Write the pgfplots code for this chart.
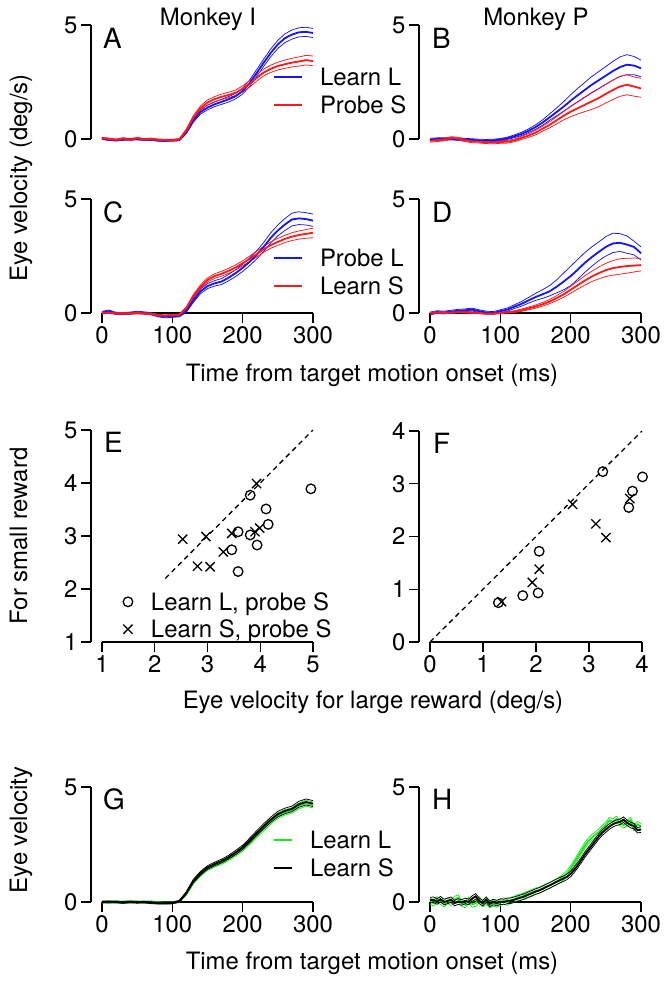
\documentclass[border=0pt]{standalone}
\usepackage{pgfplots}
\pgfplotsset{compat=1.18}
\usepackage{pgfplotstable}
\usepackage{fontspec}
\setmainfont{TeX Gyre Heros}
\newcommand\fs{\fontsize{24}{28}\selectfont}
\definecolor{myblue}{RGB}{20,20,255}
\definecolor{myred}{RGB}{255,25,25}
\definecolor{mygreen}{RGB}{30,230,30}

\pgfplotstableread{
t Bm Bu Bl Rm Ru Rl
0 0.02 0.06 -0.02 0.03 0.07 -0.01
10 -0.03 0.01 -0.07 0.00 0.04 -0.04
20 -0.05 -0.01 -0.09 -0.04 0.00 -0.08
30 -0.02 0.02 -0.06 0.02 0.06 -0.02
40 -0.01 0.03 -0.05 -0.03 0.01 -0.07
50 0.00 0.04 -0.04 0.03 0.07 -0.01
60 -0.03 0.01 -0.07 -0.02 0.02 -0.06
70 -0.02 0.02 -0.06 0.00 0.04 -0.04
80 -0.06 -0.02 -0.10 -0.04 0.00 -0.08
90 -0.07 -0.03 -0.11 -0.05 -0.01 -0.09
100 -0.05 -0.01 -0.09 -0.06 -0.02 -0.10
110 -0.04 0.00 -0.08 -0.02 0.02 -0.06
120 0.30 0.36 0.24 0.38 0.44 0.32
130 0.82 0.90 0.74 0.95 1.03 0.87
140 1.18 1.27 1.09 1.35 1.45 1.25
150 1.38 1.48 1.28 1.60 1.71 1.49
160 1.52 1.62 1.42 1.75 1.86 1.64
170 1.63 1.74 1.52 1.85 1.97 1.73
180 1.74 1.86 1.62 1.93 2.05 1.81
190 1.88 2.00 1.76 2.03 2.15 1.91
200 2.10 2.23 1.97 2.20 2.33 2.07
210 2.45 2.59 2.31 2.42 2.56 2.28
220 2.90 3.05 2.75 2.68 2.82 2.54
230 3.35 3.51 3.19 2.92 3.07 2.77
240 3.78 3.95 3.61 3.08 3.24 2.92
250 4.15 4.33 3.97 3.20 3.37 3.03
260 4.42 4.61 4.23 3.28 3.46 3.10
270 4.58 4.78 4.38 3.35 3.54 3.16
280 4.68 4.88 4.48 3.40 3.60 3.20
290 4.70 4.90 4.50 3.46 3.67 3.25
300 4.65 4.85 4.45 3.42 3.64 3.21
}\dataA

\pgfplotstableread{
t Bm Bu Bl Rm Ru Rl
0 -0.02 0.03 -0.07 -0.08 -0.02 -0.14
10 0.00 0.05 -0.05 -0.05 0.01 -0.11
20 0.00 0.05 -0.05 -0.02 0.04 -0.08
30 0.01 0.06 -0.04 0.04 0.10 -0.02
40 -0.01 0.04 -0.06 0.02 0.08 -0.04
50 -0.02 0.03 -0.07 -0.06 0.00 -0.12
60 -0.04 0.01 -0.09 -0.10 -0.04 -0.16
70 -0.06 -0.01 -0.11 -0.12 -0.06 -0.18
80 -0.07 -0.02 -0.12 -0.14 -0.08 -0.20
90 -0.06 -0.01 -0.11 -0.15 -0.09 -0.21
100 -0.03 0.02 -0.08 -0.13 -0.07 -0.19
110 0.03 0.08 -0.02 -0.12 -0.06 -0.18
120 0.12 0.18 0.06 -0.06 0.00 -0.12
130 0.22 0.29 0.15 0.05 0.12 -0.02
140 0.36 0.44 0.28 0.15 0.23 0.07
150 0.52 0.62 0.42 0.28 0.38 0.18
160 0.72 0.84 0.60 0.45 0.56 0.34
170 0.95 1.10 0.82 0.62 0.75 0.49
180 1.18 1.36 1.02 0.82 0.98 0.66
190 1.42 1.64 1.22 1.02 1.20 0.84
200 1.68 1.94 1.44 1.20 1.42 0.98
210 1.92 2.22 1.64 1.35 1.62 1.10
220 2.15 2.48 1.84 1.50 1.82 1.20
230 2.38 2.74 2.04 1.65 2.02 1.30
240 2.58 2.96 2.22 1.80 2.20 1.42
250 2.78 3.18 2.40 1.98 2.40 1.58
260 2.98 3.40 2.58 2.15 2.58 1.73
270 3.15 3.60 2.74 2.30 2.75 1.87
280 3.26 3.70 2.82 2.38 2.82 1.94
290 3.22 3.62 2.82 2.30 2.72 1.88
300 3.10 3.46 2.73 2.22 2.66 1.83
}\dataB

\pgfplotstableread{
t Bm Bu Bl Rm Ru Rl
0 0.02 0.07 -0.03 0.00 0.04 -0.04
10 0.08 0.13 0.03 0.02 0.06 -0.02
20 -0.02 0.03 -0.07 -0.01 0.03 -0.05
30 -0.03 0.02 -0.08 -0.02 0.02 -0.06
40 -0.01 0.04 -0.06 -0.01 0.03 -0.05
50 0.03 0.08 -0.02 0.00 0.04 -0.04
60 0.00 0.05 -0.05 -0.01 0.03 -0.05
70 -0.03 0.02 -0.08 -0.04 0.00 -0.08
80 -0.12 -0.07 -0.17 -0.10 -0.06 -0.14
90 -0.16 -0.11 -0.21 -0.12 -0.08 -0.16
100 -0.14 -0.09 -0.19 -0.10 -0.06 -0.14
110 -0.12 -0.07 -0.17 -0.08 -0.04 -0.12
120 0.10 0.16 0.04 0.22 0.27 0.17
130 0.55 0.63 0.47 0.75 0.82 0.68
140 0.95 1.05 0.85 1.15 1.23 1.07
150 1.18 1.29 1.07 1.45 1.54 1.36
160 1.30 1.42 1.18 1.62 1.72 1.52
170 1.38 1.51 1.25 1.72 1.83 1.61
180 1.55 1.69 1.41 1.85 1.96 1.74
190 1.75 1.90 1.60 2.00 2.11 1.89
200 1.98 2.14 1.82 2.18 2.29 2.07
210 2.25 2.42 2.08 2.38 2.50 2.26
220 2.55 2.73 2.37 2.58 2.71 2.45
230 2.90 3.10 2.70 2.80 2.93 2.67
240 3.30 3.52 3.08 2.98 3.12 2.84
250 3.62 3.86 3.38 3.12 3.27 2.97
260 3.88 4.14 3.62 3.25 3.41 3.09
270 4.10 4.38 3.82 3.35 3.52 3.18
280 4.15 4.44 3.88 3.42 3.60 3.24
290 4.12 4.40 3.86 3.47 3.66 3.28
300 4.05 4.34 3.80 3.52 3.72 3.30
}\dataC

\pgfplotstableread{
t Bm Bu Bl Rm Ru Rl
0 -0.02 0.04 -0.08 0.00 0.03 -0.03
10 0.04 0.10 -0.02 0.02 0.05 -0.01
20 0.02 0.08 -0.04 0.01 0.04 -0.02
30 0.06 0.12 0.00 0.02 0.05 -0.01
40 0.10 0.16 0.04 0.04 0.07 0.01
50 0.12 0.18 0.06 0.03 0.06 0.00
60 0.15 0.21 0.09 0.02 0.05 -0.01
70 0.08 0.14 0.02 0.00 0.03 -0.03
80 0.02 0.08 -0.04 -0.03 0.00 -0.06
90 0.00 0.06 -0.06 -0.02 0.01 -0.05
100 0.08 0.14 0.02 0.00 0.03 -0.03
110 0.15 0.22 0.08 0.03 0.06 0.00
120 0.28 0.36 0.20 0.06 0.10 0.02
130 0.40 0.50 0.30 0.12 0.17 0.07
140 0.55 0.68 0.43 0.20 0.26 0.14
150 0.70 0.86 0.55 0.28 0.35 0.21
160 0.82 1.02 0.64 0.38 0.46 0.30
170 0.95 1.20 0.75 0.50 0.59 0.41
180 1.15 1.45 0.88 0.65 0.76 0.54
190 1.38 1.75 1.02 0.82 0.95 0.69
200 1.62 2.05 1.20 1.02 1.17 0.87
210 1.90 2.35 1.48 1.22 1.40 1.05
220 2.20 2.65 1.78 1.42 1.63 1.22
230 2.45 2.90 2.05 1.60 1.83 1.38
240 2.68 3.12 2.30 1.75 2.02 1.50
250 2.90 3.35 2.50 1.88 2.18 1.60
260 3.05 3.50 2.65 1.97 2.30 1.66
270 3.08 3.48 2.70 2.02 2.38 1.70
280 3.00 3.38 2.62 2.06 2.40 1.75
290 2.90 3.15 2.55 2.08 2.41 1.80
300 2.62 2.90 2.32 2.10 2.40 1.85
}\dataD

\pgfplotstableread{
t Gm Gu Gl Km Ku Kl
0 0.00 0.04 -0.04 0.00 0.04 -0.04
10 -0.02 0.02 -0.06 0.01 0.05 -0.03
20 0.01 0.05 -0.03 0.00 0.04 -0.04
30 0.00 0.04 -0.04 -0.02 0.02 -0.06
40 0.02 0.06 -0.02 0.00 0.04 -0.04
50 0.00 0.04 -0.04 -0.01 0.03 -0.05
60 -0.01 0.03 -0.05 0.00 0.04 -0.04
70 0.01 0.05 -0.03 -0.03 0.01 -0.07
80 -0.03 0.01 -0.07 -0.05 -0.01 -0.09
90 -0.04 0.00 -0.08 -0.05 -0.01 -0.09
100 -0.03 0.01 -0.07 -0.04 0.00 -0.08
110 0.02 0.06 -0.02 0.03 0.07 -0.01
120 0.35 0.40 0.30 0.40 0.45 0.35
130 0.85 0.92 0.78 0.92 0.99 0.85
140 1.20 1.28 1.12 1.25 1.33 1.17
150 1.45 1.53 1.37 1.50 1.58 1.42
160 1.60 1.68 1.52 1.65 1.73 1.57
170 1.72 1.80 1.64 1.78 1.86 1.70
180 1.88 1.96 1.80 1.95 2.03 1.87
190 2.08 2.17 1.99 2.15 2.24 2.06
200 2.30 2.39 2.21 2.38 2.47 2.29
210 2.60 2.70 2.50 2.68 2.78 2.58
220 2.90 3.00 2.80 3.00 3.10 2.90
230 3.20 3.31 3.09 3.30 3.41 3.19
240 3.50 3.61 3.39 3.58 3.69 3.47
250 3.75 3.87 3.63 3.82 3.94 3.70
260 3.90 4.02 3.78 3.96 4.08 3.84
270 3.98 4.10 3.86 4.05 4.17 3.93
280 4.18 4.31 4.05 4.25 4.38 4.12
290 4.30 4.43 4.17 4.35 4.48 4.22
300 4.22 4.35 4.09 4.28 4.41 4.15
}\dataG

\pgfplotstableread{
t Gm Gu Gl Km Ku Kl
0 0.05 0.18 -0.08 0.08 0.20 -0.04
5 -0.05 0.08 -0.18 0.10 0.22 -0.02
10 0.10 0.23 -0.03 0.02 0.14 -0.10
15 0.02 0.15 -0.11 0.12 0.24 0.00
20 -0.08 0.05 -0.21 0.00 0.12 -0.12
25 0.06 0.19 -0.07 0.05 0.17 -0.07
30 -0.02 0.11 -0.15 0.10 0.22 -0.02
35 0.12 0.25 -0.01 -0.05 0.07 -0.17
40 0.18 0.31 0.05 0.02 0.14 -0.10
45 -0.05 0.08 -0.18 -0.02 0.10 -0.14
50 -0.12 0.01 -0.25 0.05 0.17 -0.07
55 0.08 0.21 -0.05 0.00 0.12 -0.12
60 -0.10 0.03 -0.23 0.15 0.27 0.03
65 -0.05 0.08 -0.18 0.25 0.37 0.13
70 0.10 0.23 -0.03 0.05 0.17 -0.07
75 -0.08 0.05 -0.21 -0.05 0.07 -0.17
80 0.02 0.15 -0.11 0.10 0.22 -0.02
85 -0.12 0.01 -0.25 -0.08 0.04 -0.20
90 -0.05 0.08 -0.18 0.00 0.12 -0.12
95 -0.10 0.03 -0.23 -0.05 0.07 -0.17
100 -0.02 0.11 -0.15 0.02 0.14 -0.10
105 0.05 0.18 -0.08 0.00 0.12 -0.12
110 -0.02 0.11 -0.15 0.05 0.17 -0.07
115 0.08 0.21 -0.05 0.06 0.18 -0.06
120 0.12 0.25 -0.01 0.10 0.22 -0.02
125 0.20 0.33 0.07 0.15 0.27 0.03
130 0.22 0.35 0.09 0.20 0.32 0.08
135 0.30 0.43 0.17 0.25 0.37 0.13
140 0.35 0.48 0.22 0.32 0.44 0.20
145 0.42 0.55 0.29 0.38 0.50 0.26
150 0.48 0.61 0.35 0.45 0.57 0.33
155 0.52 0.65 0.39 0.50 0.62 0.38
160 0.58 0.71 0.45 0.57 0.69 0.45
165 0.66 0.79 0.53 0.65 0.77 0.53
170 0.72 0.85 0.59 0.72 0.84 0.60
175 0.80 0.93 0.67 0.80 0.92 0.68
180 0.88 1.01 0.75 0.88 1.00 0.76
185 0.98 1.11 0.85 0.95 1.07 0.83
190 1.10 1.23 0.97 1.02 1.14 0.90
195 1.25 1.38 1.12 1.10 1.22 0.98
200 1.45 1.58 1.32 1.22 1.34 1.10
205 1.70 1.83 1.57 1.40 1.52 1.28
210 1.95 2.08 1.82 1.60 1.72 1.48
215 2.20 2.33 2.07 1.82 1.94 1.70
220 2.45 2.58 2.32 2.05 2.17 1.93
225 2.65 2.78 2.52 2.25 2.37 2.13
230 2.80 2.93 2.67 2.45 2.57 2.33
235 2.92 3.05 2.79 2.65 2.77 2.53
240 3.05 3.18 2.92 2.85 2.97 2.73
245 3.20 3.33 3.07 3.02 3.14 2.90
250 3.35 3.48 3.22 3.15 3.27 3.03
255 3.55 3.68 3.42 3.28 3.40 3.16
260 3.48 3.61 3.35 3.38 3.50 3.26
265 3.60 3.73 3.47 3.45 3.57 3.33
270 3.45 3.58 3.32 3.48 3.60 3.36
275 3.35 3.48 3.22 3.58 3.70 3.46
280 3.42 3.55 3.29 3.45 3.57 3.33
285 3.55 3.68 3.42 3.35 3.47 3.23
290 3.22 3.35 3.09 3.30 3.42 3.18
295 3.38 3.51 3.25 3.12 3.24 3.00
300 3.28 3.41 3.15 3.15 3.27 3.03
}\dataH

\pgfplotsset{
  base/.style={scale only axis, clip=false,
    axis lines=left,
    axis line style={-, line width=1.4bp},
    x axis line style={draw=none},
    tick style={black, line width=1.4bp},
    major tick length=10bp, tick align=outside,
    minor tick num=0,
    tick label style={font=\fs},
    /pgf/number format/assume math mode=true,
    legend cell align=left,
    legend style={draw=none, fill=none, inner sep=0pt, outer sep=0pt,
      font=\fs, row sep=9bp, nodes={inner sep=0pt}, anchor=west},
  },
  trace/.style={base, width=222bp, height=114bp, xmin=-15.6, xmax=300,
    ymin=0, ymax=5, ytick={0,5}, xtick={0,100,200,300},
    legend image code/.code={\draw[##1, line width=2bp] (0bp,0bp) -- (28bp,0bp); \path[draw=none,fill=none] (0bp,0bp) -- (46bp,0bp);}},
  shortleg/.style={legend image code/.code={\draw[##1, line width=2bp] (0bp,0bp) -- (18bp,0bp); \path[draw=none,fill=none] (0bp,0bp) -- (36bp,0bp);}},
  toptrace/.style={trace, axis x line=none, xtick=\empty},
  mean/.style={line width=1.8bp},
  se/.style={line width=0.75bp},
  scat/.style={base, height=212bp, 
    legend image code/.code={\draw[##1] plot coordinates {(5bp,0bp)}; \path[draw=none,fill=none] (0bp,0bp) -- (28bp,0bp);}},
}

\begin{document}
\begin{tikzpicture}
\useasboundingbox (0,0) rectangle (669bp,-983bp);

% ---------- A ----------
\begin{axis}[toptrace, at={(91bp,-139bp)}, anchor=south west,
  legend style={at={(0.82,0.417)}}]
\addlegendimage{myblue, mean}\addlegendentry{Learn L}
\addlegendimage{myred, mean}\addlegendentry{Probe S}
\addplot[myblue, se, forget plot] table[x=t,y=Bu]{\dataA};
\addplot[myblue, se, forget plot] table[x=t,y=Bl]{\dataA};
\addplot[myred, se, forget plot] table[x=t,y=Ru]{\dataA};
\addplot[myred, se, forget plot] table[x=t,y=Rl]{\dataA};
\addplot[myblue, mean, forget plot] table[x=t,y=Bm]{\dataA};
\addplot[myred, mean, forget plot] table[x=t,y=Rm]{\dataA};
\end{axis}

% ---------- B ----------
\begin{axis}[toptrace, at={(419bp,-139bp)}, anchor=south west]
\addplot[myblue, se] table[x=t,y=Bu]{\dataB};
\addplot[myblue, se] table[x=t,y=Bl]{\dataB};
\addplot[myred, se] table[x=t,y=Ru]{\dataB};
\addplot[myred, se] table[x=t,y=Rl]{\dataB};
\addplot[myblue, mean] table[x=t,y=Bm]{\dataB};
\addplot[myred, mean] table[x=t,y=Rm]{\dataB};
\end{axis}

% ---------- C ----------
\begin{axis}[trace, at={(91bp,-313bp)}, anchor=south west,
  legend style={at={(0.82,0.355)}}]
\addlegendimage{myblue, mean}\addlegendentry{Probe L}
\addlegendimage{myred, mean}\addlegendentry{Learn S}
\draw[black, line width=1.4bp] (axis cs:0,0) -- (axis cs:300,0);
\addplot[myblue, se, forget plot] table[x=t,y=Bu]{\dataC};
\addplot[myblue, se, forget plot] table[x=t,y=Bl]{\dataC};
\addplot[myred, se, forget plot] table[x=t,y=Ru]{\dataC};
\addplot[myred, se, forget plot] table[x=t,y=Rl]{\dataC};
\addplot[myblue, mean, forget plot] table[x=t,y=Bm]{\dataC};
\addplot[myred, mean, forget plot] table[x=t,y=Rm]{\dataC};
\end{axis}

% ---------- D ----------
\begin{axis}[trace, at={(419bp,-313bp)}, anchor=south west]
\draw[black, line width=1.4bp] (axis cs:0,0) -- (axis cs:300,0);
\addplot[myblue, se] table[x=t,y=Bu]{\dataD};
\addplot[myblue, se] table[x=t,y=Bl]{\dataD};
\addplot[myred, se] table[x=t,y=Ru]{\dataD};
\addplot[myred, se] table[x=t,y=Rl]{\dataD};
\addplot[myblue, mean] table[x=t,y=Bm]{\dataD};
\addplot[myred, mean] table[x=t,y=Rm]{\dataD};
\end{axis}

% ---------- E ----------
\begin{axis}[scat, width=222bp, at={(91bp,-642bp)}, anchor=south west,
  xmin=0.7915, xmax=5, ymin=1, ymax=5, xtick={1,2,3,4,5}, ytick={1,2,3,4,5},
  legend style={at={(0.144,0.125)}, row sep=8bp}]
\draw[black, line width=1.4bp] (axis cs:1,1) -- (axis cs:5,1);
\addplot[black, line width=1.3bp, dash pattern=on 5bp off 4bp, forget plot] coordinates {(2.2,2.2) (5,5)};
\addplot[only marks, mark=o, mark size=4.8bp, mark options={line width=1.3bp}, black]
 coordinates {(4.96,3.89) (3.81,3.77) (4.11,3.51) (4.15,3.22) (3.58,3.08) (3.81,3.02) (3.94,2.83) (3.46,2.74) (3.58,2.33)};
\addlegendentry{Learn L, probe S}
\addplot[only marks, mark=x, mark size=6.5bp, mark options={line width=1.3bp}, black]
 coordinates {(3.93,3.99) (2.53,2.94) (2.97,2.99) (3.46,3.05) (3.90,3.08) (3.99,3.15) (3.30,2.70) (2.81,2.43) (3.05,2.42)};
\addlegendentry{Learn S, probe S}
\end{axis}

% ---------- F ----------
\begin{axis}[scat, at={(419bp,-642bp)}, anchor=south west,
  width=223bp, height=211bp,
  xmin=-0.2075, xmax=4, ymin=0, ymax=4, xtick={0,1,2,3,4}, ytick={0,1,2,3,4}]
\draw[black, line width=1.4bp] (axis cs:0,0) -- (axis cs:4,0);
\addplot[black, line width=1.3bp, dash pattern=on 5bp off 4bp] coordinates {(0,0) (4,4)};
\addplot[only marks, mark=o, mark size=4.8bp, mark options={line width=1.3bp}, black]
 coordinates {(3.26,3.23) (4.01,3.13) (3.82,2.86) (3.75,2.55) (2.06,1.72) (2.04,0.93) (1.75,0.88) (1.29,0.745)};
\addplot[only marks, mark=x, mark size=6.5bp, mark options={line width=1.3bp}, black]
 coordinates {(2.69,2.61) (3.13,2.24) (3.32,1.98) (2.06,1.38) (1.93,1.13) (1.35,0.765) (3.77,2.72)};
\end{axis}

% ---------- G ----------
\begin{axis}[trace, shortleg, height=115bp, at={(91bp,-902bp)}, anchor=south west,
  legend style={at={(0.82,0.413)}}]
\addlegendimage{mygreen, mean}\addlegendentry{Learn L}
\addlegendimage{black, mean}\addlegendentry{Learn S}
\draw[black, line width=1.4bp] (axis cs:0,0) -- (axis cs:300,0);
\addplot[mygreen, se, forget plot] table[x=t,y=Gu]{\dataG};
\addplot[mygreen, se, forget plot] table[x=t,y=Gl]{\dataG};
\addplot[mygreen, mean, forget plot] table[x=t,y=Gm]{\dataG};
\addplot[black, se, forget plot] table[x=t,y=Ku]{\dataG};
\addplot[black, se, forget plot] table[x=t,y=Kl]{\dataG};
\addplot[black, mean, forget plot] table[x=t,y=Km]{\dataG};
\end{axis}

% ---------- H ----------
\begin{axis}[trace, height=115bp, at={(419bp,-902bp)}, anchor=south west]
\draw[black, line width=1.4bp] (axis cs:0,0) -- (axis cs:300,0);
\addplot[mygreen, se] table[x=t,y=Gu]{\dataH};
\addplot[mygreen, se] table[x=t,y=Gl]{\dataH};
\addplot[mygreen, mean] table[x=t,y=Gm]{\dataH};
\addplot[black, se] table[x=t,y=Ku]{\dataH};
\addplot[black, se] table[x=t,y=Kl]{\dataH};
\addplot[black, mean] table[x=t,y=Km]{\dataH};
\end{axis}

% ---------- texts ----------
\begin{scope}[every node/.style={font=\fontsize{28}{30}\selectfont, anchor=base west, inner sep=0pt}]
\node at (103bp,-48bp) {A};
\node at (432bp,-48bp) {B};
\node at (103bp,-222bp) {C};
\node at (432bp,-222bp) {D};
\node at (104bp,-452bp) {E};
\node at (433bp,-453bp) {F};
\node at (103bp,-809bp) {G};
\node at (432bp,-809bp) {H};
\end{scope}
\begin{scope}[every node/.style={font=\fs, inner sep=0pt}]
\node[anchor=base] at (208bp,-25bp) {Monkey I};
\node[anchor=base] at (536bp,-25bp) {Monkey P};
\node[rotate=90, anchor=base] at (27bp,-178bp) {Eye velocity (deg/s)};
\node[rotate=90, anchor=base] at (27bp,-536bp) {For small reward};
\node[rotate=90, anchor=base] at (27bp,-830bp) {Eye velocity};
\node[anchor=base] at (372bp,-381bp) {Time from target motion onset (ms)};
\node[anchor=base] at (373bp,-708bp) {Eye velocity for large reward (deg/s)};
\node[anchor=base] at (372bp,-969bp) {Time from target motion onset (ms)};
\end{scope}
\end{tikzpicture}
\end{document}
